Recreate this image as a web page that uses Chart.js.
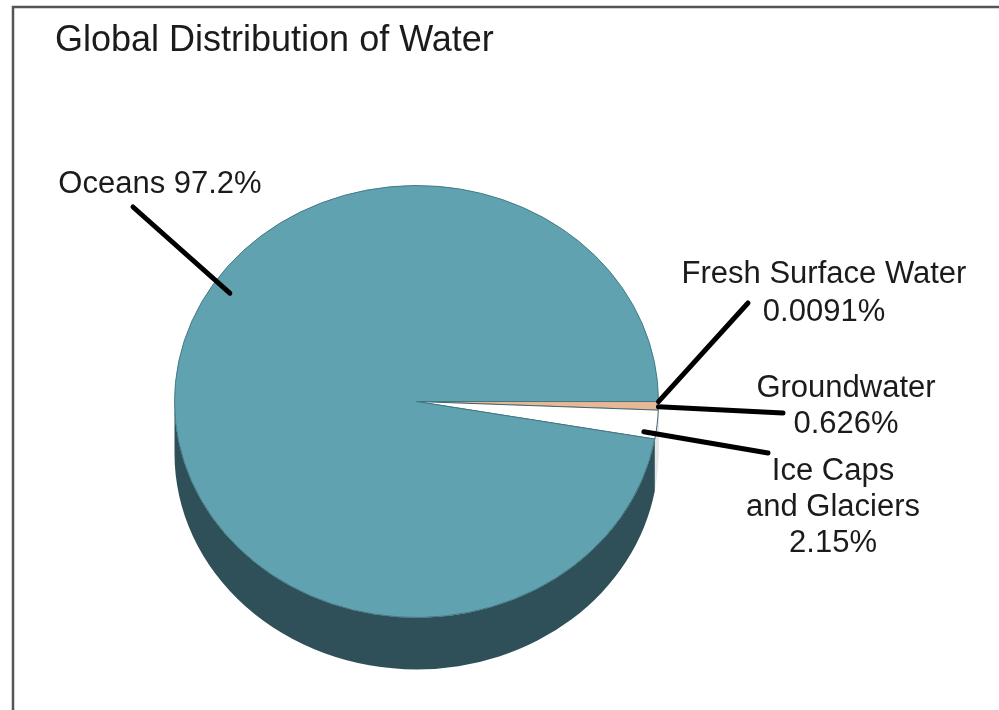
<!DOCTYPE html>
<html>
<head>
<meta charset="utf-8">
<title>Global Distribution of Water</title>
<script src="https://cdn.jsdelivr.net/npm/chart.js@4.4.1/dist/chart.umd.min.js"></script>
<style>
  html, body { margin: 0; padding: 0; background: #fff; }
  #wrap { width: 999px; height: 710px; position: relative; }
</style>
</head>
<body>
<div id="wrap"><canvas id="chart"></canvas></div>
<script>
// -------- datos ----------
const categories = ["Fresh Surface Water", "Groundwater", "Ice Caps and Glaciers", "Oceans"];
const shares     = [0.0091, 0.626, 2.15, 97.2];   // % del agua total
const labelLines = [["Fresh Surface Water"], ["Groundwater"], ["Ice Caps", "and Glaciers"], ["Oceans"]];
const chartTitle = "Global Distribution of Water";

// -------- estilos ----------
const topColors  = ["#7f9ea5", "#e8b796", "#ffffff", "#61a2b0"];
const sideColors = ["#4a5a5e", "#a8826a", "#e6e6e6", "#2f5059"];
const edgeColors = ["#2c4d55", "#9a7860", "#35606a", "#3f7683"];

const FONT = '"Liberation Sans", Arial, Helvetica, sans-serif';

// callouts: punto de anclaje sobre la porción (t = fracción del ángulo, frac = fracción del radio)
const callouts = [
  { i: 0, t: 0.5,  frac: 1.0,  to: [748, 303], at: [824, 283], lh: 38, inline: false },
  { i: 1, t: 0.6,  frac: 1.0,  to: [783, 413], at: [846, 397], lh: 36, inline: false },
  { i: 2, t: 0.8,  frac: 0.95, to: [768, 453], at: [833, 480], lh: 36, inline: false },
  { i: 3, t: 0.58, frac: 0.92, to: [133, 207], at: [160, 193], lh: 36, inline: true }
];

const fmtPct = (v) => `${v}%`;

// -------- marco ----------
const framePlugin = {
  id: "frame",
  beforeDraw(chart) {
    const { ctx, width, height } = chart;
    ctx.save();
    ctx.strokeStyle = "#555";
    ctx.lineWidth = 2.5;
    ctx.beginPath();
    ctx.moveTo(13, height);
    ctx.lineTo(13, 7);
    ctx.lineTo(width, 7);
    ctx.stroke();
    ctx.restore();
  }
};

// -------- pastel 3D (canto + cara achatada) ----------
const pie3d = {
  id: "pie3d",
  beforeDatasetsDraw(chart, args, opts) {
    const { ctx } = chart;
    const arcs = chart.getDatasetMeta(0).data;
    if (!arcs.length) return;
    const { x: cx, y: cy, outerRadius: r } = arcs[0];
    const d = opts.depth / opts.tilt;
    ctx.save();
    arcs.forEach((arc, i) => {
      const TAU = Math.PI * 2;
      let a0 = ((arc.startAngle % TAU) + TAU) % TAU;
      let a1 = a0 + (arc.endAngle - arc.startAngle);
      // sólo la mitad inferior (0..PI) se ve de canto
      [[0, Math.PI], [TAU, TAU + Math.PI]].forEach(([lo, hi]) => {
        const s = Math.max(a0, lo), e = Math.min(a1, hi);
        if (e <= s) return;
        ctx.save();
        ctx.translate(cx, cy);
        ctx.scale(1, opts.tilt);
        ctx.beginPath();
        ctx.arc(0, 0, r, s, e);
        ctx.arc(0, d, r, e, s, true);
        ctx.closePath();
        ctx.fillStyle = sideColors[i];
        ctx.fill();
        ctx.restore();
      });
    });
    // cara superior
    ctx.translate(cx, cy);
    ctx.scale(1, opts.tilt);
    ctx.translate(-cx, -cy);
  },
  afterDatasetsDraw(chart) {
    chart.ctx.restore();
  }
};

// -------- título y etiquetas ----------
const labelsPlugin = {
  id: "callouts",
  afterDraw(chart, args, opts) {
    const { ctx } = chart;
    const arcs = chart.getDatasetMeta(0).data;
    ctx.save();
    ctx.fillStyle = "#1b1b1b";
    ctx.font = `36px ${FONT}`;
    ctx.textAlign = "left";
    ctx.textBaseline = "alphabetic";
    ctx.fillText(chartTitle, 55, 51);

    ctx.strokeStyle = "#000";
    ctx.lineWidth = 5;
    ctx.lineCap = "round";
    ctx.font = `31px ${FONT}`;
    ctx.textAlign = "center";

    callouts.forEach((c) => {
      const arc = arcs[c.i];
      if (!arc) return;
      const ang = arc.startAngle + c.t * (arc.endAngle - arc.startAngle);
      const px = arc.x + c.frac * arc.outerRadius * Math.cos(ang);
      const py = arc.y + opts.tilt * c.frac * arc.outerRadius * Math.sin(ang);
      ctx.beginPath();
      ctx.moveTo(c.to[0], c.to[1]);
      ctx.lineTo(px, py);
      ctx.stroke();

      const lines = c.inline
        ? [`${labelLines[c.i].join(" ")} ${fmtPct(shares[c.i])}`]
        : [...labelLines[c.i], fmtPct(shares[c.i])];
      lines.forEach((ln, k) => ctx.fillText(ln, c.at[0], c.at[1] + k * c.lh));
    });
    ctx.restore();
  }
};

const TILT = 216 / 242;

new Chart(document.getElementById("chart"), {
  type: "pie",
  data: {
    labels: categories,
    datasets: [{
      data: shares,
      backgroundColor: topColors,
      borderColor: edgeColors,
      borderWidth: 1
    }]
  },
  options: {
    responsive: true,
    maintainAspectRatio: false,
    animation: false,
    rotation: 90,
    layout: { padding: { left: 174, right: 340, top: 159, bottom: 66 } },
    events: [],
    plugins: {
      legend: { display: false },
      tooltip: { enabled: false },
      title: { display: false },
      pie3d: { tilt: TILT, depth: 52 },
      callouts: { tilt: TILT }
    }
  },
  plugins: [framePlugin, pie3d, labelsPlugin]
});
</script>
</body>
</html>
